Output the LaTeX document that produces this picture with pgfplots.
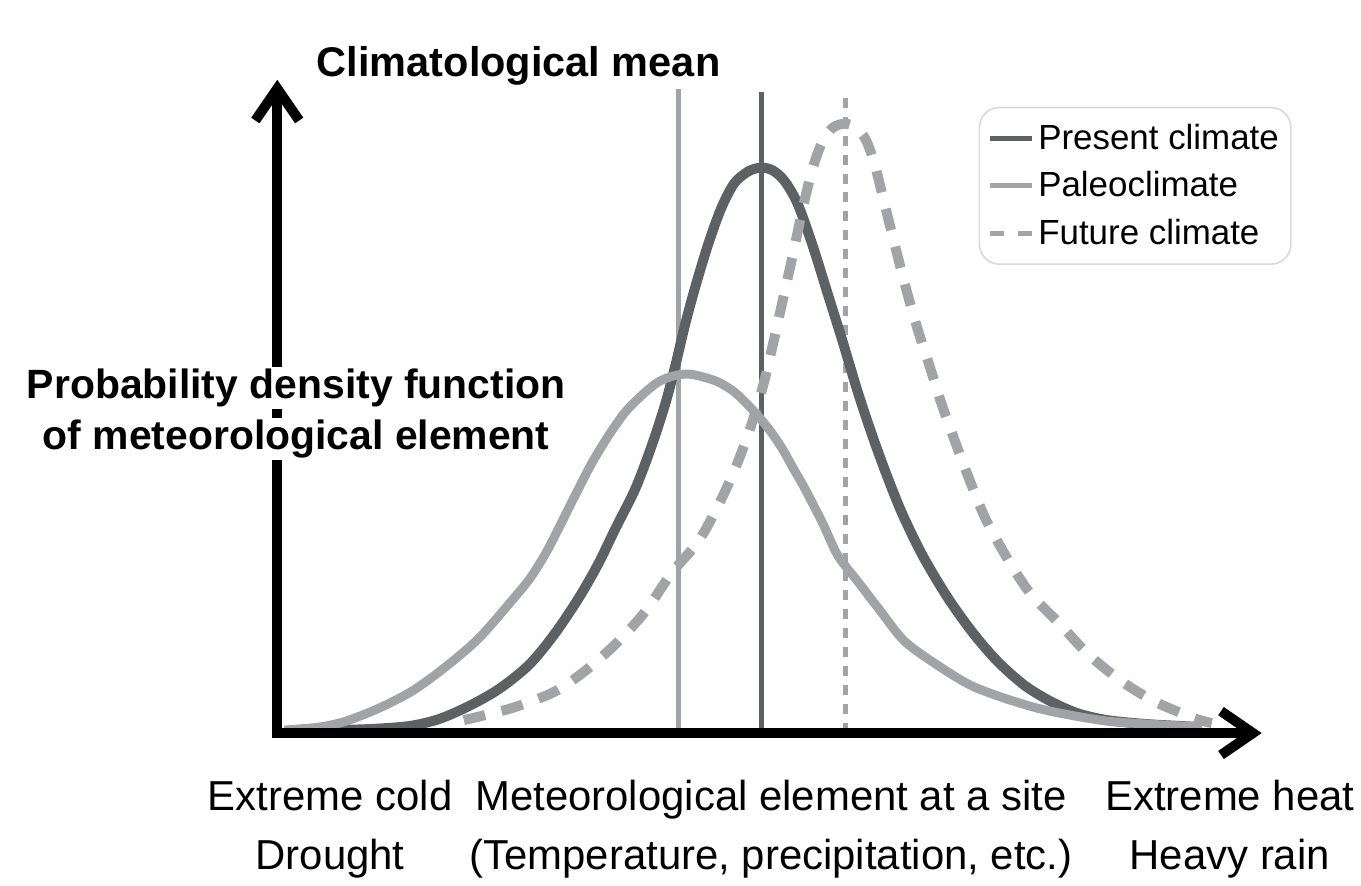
\documentclass[border=0pt]{standalone}
\usepackage{pgfplots}
\pgfplotsset{compat=1.18}
\usepackage{fontspec}
\setmainfont{Liberation Sans}
\usetikzlibrary{arrows.meta}
\definecolor{present}{RGB}{94,97,100}
\definecolor{paleo}{RGB}{162,163,167}

\begin{document}
\begin{tikzpicture}
\begin{axis}[
  x=0.5pt, y=0.5pt,
  xmin=0, xmax=1361, ymin=-144, ymax=735,
  hide axis, clip=false,
  legend style={at={(axis cs:1295,628)}, anchor=north east,
    draw=black!15, line width=0.8pt, rounded corners=10pt,
    font=\fontsize{17.5}{20}\selectfont, inner xsep=4pt, inner ysep=6.5pt,
    row sep=5.5pt},
  legend cell align=left,
]
\path (axis cs:0,-144) rectangle (axis cs:1361,735);

% climatological means
\addplot[paleo, line width=2.5pt, forget plot] coordinates {(680,0) (680,646)};
\addplot[present, line width=2.5pt, forget plot] coordinates {(763,0) (763,643)};
\addplot[paleo, line width=2.5pt, dash pattern=on 5pt off 4.5pt, forget plot]
  coordinates {(848,0) (848,642)};

% present climate
\addplot[present, line width=5pt, smooth,
  legend image code/.code={\draw[present, line width=2.5pt] (0pt,0pt) -- (21pt,0pt);}]
  coordinates {
  (330,3) (370,4) (410,7) (440,14) (470,27) (500,44) (530,68) (555,98)
  (580,135) (600,170) (617,205) (637,245) (653,287) (667,330) (677,368)
  (687,410) (697,447) (710,490) (723,526) (736,551) (750,563) (763,567)
  (775,564) (787,553) (800,530) (815,488) (830,440) (845,392) (860,342)
  (875,297) (890,256) (905,219) (925,178) (950,136) (975,101) (1000,72)
  (1027,48) (1053,32) (1080,20) (1110,13) (1150,9) (1205,6)
};
\addlegendentry{Present climate}

% paleoclimate
\addplot[paleo, line width=4.5pt, smooth,
  legend image code/.code={\draw[paleo, line width=2.5pt] (0pt,0pt) -- (21pt,0pt);}]
  coordinates {
  (285,3) (320,6) (347,12) (380,25) (413,42) (445,65) (480,95) (515,135)
  (532,156) (547,180) (560,205) (575,235) (593,270) (610,298) (627,322)
  (645,340) (660,352) (675,358) (690,360) (705,357) (720,352) (735,343)
  (747,332) (760,318) (773,302) (785,284) (795,266) (807,245) (825,210)
  (840,178) (860,152) (883,122) (907,92) (940,68) (973,48) (1007,35)
  (1040,25) (1073,18) (1110,12) (1150,9) (1205,6)
};
\addlegendentry{Paleoclimate}

% future climate
\addplot[paleo, line width=5pt, smooth, dash pattern=on 11pt off 8.5pt,
  legend image code/.code={\draw[paleo, line width=2.5pt, dash pattern=on 7pt off 7pt] (0pt,0pt) -- (21pt,0pt);}]
  coordinates {
  (465,13) (513,25) (557,42) (590,65) (620,92) (647,122) (673,160) (700,192)
  (720,228) (737,265) (752,305) (765,348) (775,390) (785,435) (795,480)
  (805,527) (815,567) (825,594) (835,607) (847,611) (858,607) (868,595)
  (877,570) (887,530) (897,490) (908,447) (920,405) (932,368) (943,333)
  (958,291) (972,254) (988,215) (1010,175) (1033,140) (1062,110) (1090,80)
  (1123,53) (1157,32) (1197,15) (1215,10)
};
\addlegendentry{Future climate}

% axes
\addplot[black, line width=5pt, line join=miter,
  {Straight Barb[length=16pt, width=22pt]}-{Straight Barb[length=16pt, width=22pt]},
  forget plot] coordinates {(278,655) (278,0) (1265,0)};

\node[anchor=base, font=\bfseries\fontsize{20.8}{24}\selectfont]
  at (axis cs:520,658) {Climatological mean};
\node[anchor=base, fill=white, inner sep=1pt, font=\bfseries\fontsize{20.5}{24}\selectfont]
  at (axis cs:297,335) {Probability density function};
\node[anchor=base, fill=white, inner sep=1pt, font=\bfseries\fontsize{20.5}{24}\selectfont]
  at (axis cs:297,284) {of meteorological element};

\node[anchor=base, font=\fontsize{21}{25}\selectfont] at (axis cs:331,-78) {Extreme cold};
\node[anchor=base, font=\fontsize{21}{25}\selectfont] at (axis cs:331,-137) {Drought};
\node[anchor=base, font=\fontsize{21}{25}\selectfont] at (axis cs:773,-78) {Meteorological element at a site};
\node[anchor=base, font=\fontsize{21}{25}\selectfont] at (axis cs:773,-137) {(Temperature, precipitation, etc.)};
\node[anchor=base, font=\fontsize{21}{25}\selectfont] at (axis cs:1233,-78) {Extreme heat};
\node[anchor=base, font=\fontsize{21}{25}\selectfont] at (axis cs:1233,-137) {Heavy rain};
\end{axis}
\end{tikzpicture}
\end{document}
